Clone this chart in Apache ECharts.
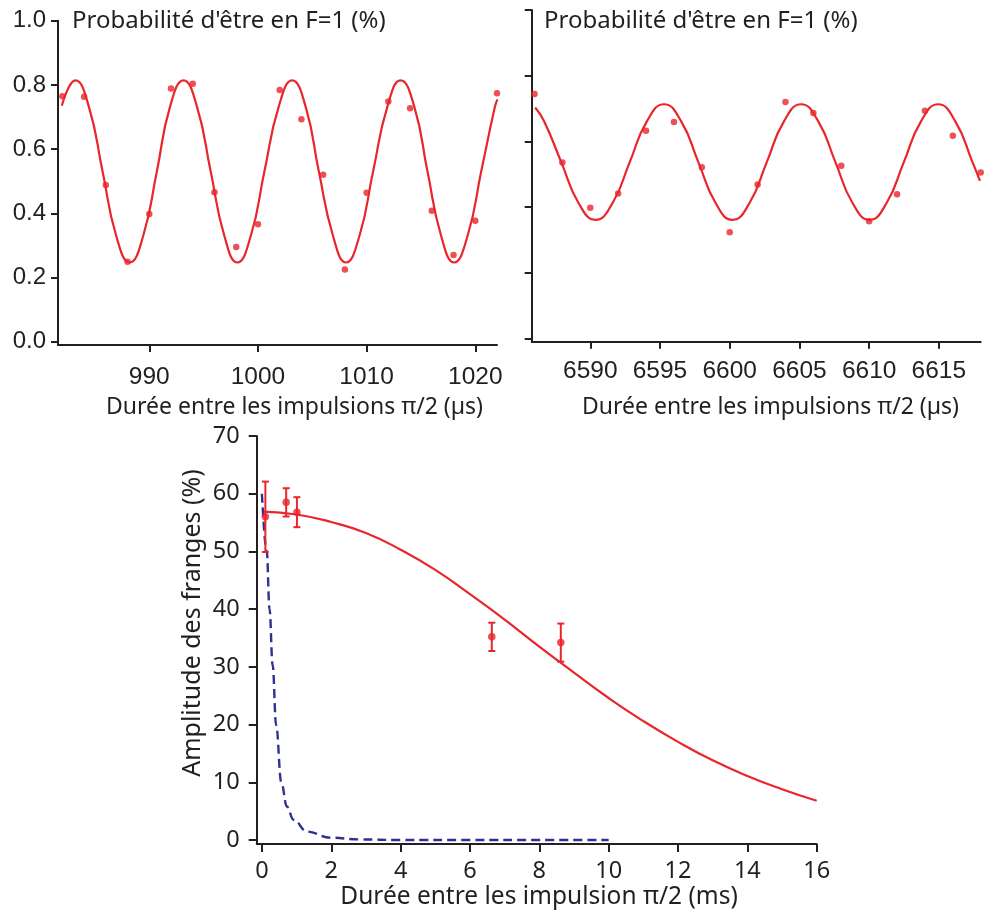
<!DOCTYPE html>
<html>
<head>
<meta charset="utf-8">
<script src="https://cdn.jsdelivr.net/npm/echarts@6/dist/echarts.min.js"></script>
<style>
html,body{margin:0;padding:0;background:#fff;}
#chart{width:984px;height:915px;}
</style>
</head>
<body>
<div id="chart"></div>
<script>
// ---------- Data ----------
// Top-left panel: fringes near 1000 µs
const tlTimes = [982,984,986,988,990,992,994,996,998,1000,1002,1004,1006,1008,1010,1012,1014,1016,1018,1020,1022];
const tlProb  = [0.765,0.763,0.488,0.249,0.398,0.789,0.804,0.466,0.295,0.366,0.784,0.693,0.520,0.225,0.464,0.748,0.727,0.408,0.270,0.377,0.774];
const tlFitT  = [981.95,983.2,984.45,985.7,986.95,988.2,989.45,990.7,991.9,993.15,994.4,995.65,996.9,998.1,999.35,1000.6,1001.9,1003.15,1004.4,1005.6,1006.9,1008.1,1009.35,1010.6,1011.9,1013.13,1014.4,1015.6,1016.85,1018.05,1019.3,1020.55,1021.8,1022.04];
const tlFitP  = [0.735,0.814,0.731,0.531,0.331,0.247,0.331,0.531,0.731,0.814,0.731,0.531,0.331,0.247,0.331,0.531,0.731,0.814,0.731,0.531,0.331,0.247,0.331,0.531,0.731,0.814,0.731,0.531,0.331,0.247,0.331,0.531,0.731,0.755];

// Top-right panel: fringes near 6600 µs
const trTimes = [6586,6588,6590,6592,6594,6596,6598,6600,6602,6604,6606,6608,6610,6612,6614,6616,6618];
const trProb  = [0.744,0.536,0.398,0.441,0.632,0.659,0.521,0.323,0.469,0.720,0.686,0.526,0.357,0.439,0.693,0.617,0.505];
const trFitT  = [6586.05,6586.69,6587.92,6589.15,6590.38,6591.61,6592.83,6594.06,6595.29,6596.52,6597.75,6598.98,6600.2,6601.43,6602.66,6603.89,6605.12,6606.35,6607.58,6608.8,6610.03,6611.26,6612.49,6613.72,6614.95,6616.18,6617.41,6617.95];
const trFitP  = [0.703,0.661,0.537,0.413,0.361,0.413,0.537,0.661,0.713,0.661,0.537,0.413,0.361,0.413,0.537,0.661,0.713,0.661,0.537,0.413,0.361,0.413,0.537,0.661,0.713,0.661,0.537,0.48];

// Bottom panel: fringe amplitude vs time
const ampTimes = [0.10,0.70,1.01,6.63,8.62];
const ampVals  = [56.0,58.5,56.8,35.2,34.2];
const ampErr   = [6.1,2.45,2.6,2.45,3.3];
const fitT     = [0.05,1,2,3,4,5,6,7,8,9,10,11,12,13,14,15,16];
const fitA     = [56.9,56.4,55.1,53.2,50.3,46.8,42.6,38.2,33.5,29.0,24.6,20.6,17.0,13.8,11.1,8.8,6.8];
const dashT    = [0,0.14,0.22,0.31,0.41,0.56,0.72,0.91,1.3,1.97,2.8,4,6,8,10];
const dashA    = [60,50,40,30.3,19.9,10,5.8,3.5,1.45,0.4,0.1,0,0,0,0];

// Tick labels
const tlXTicks = [990,1000,1010,1020];
const trXTicks = [6590,6595,6600,6605,6610,6615];
const probTicks = [0,0.2,0.4,0.6,0.8,1.0];
const ampYTicks = [0,10,20,30,40,50,60,70];
const ampXTicks = [0,2,4,6,8,10,12,14,16];

// ---------- Styling ----------
const RED = '#e8262b';
const BLUE = '#2e3192';
const INK = '#231f20';
const MYR = '"Noto Sans", sans-serif';
const ARI = '"Liberation Sans", Arial, sans-serif';

const zip = (a,b) => a.map((v,i)=>[v,b[i]]);
const plain = v => String(v);

function axisBase(extra){
  return Object.assign({
    type:'value',
    axisLine:{show:true,onZero:false,lineStyle:{color:INK,width:2}},
    axisTick:{show:true,inside:false,length:7,lineStyle:{color:INK,width:2}},
    splitLine:{show:false},
  }, extra);
}

const chart = echarts.init(document.getElementById('chart'), null, {renderer:'canvas'});

const option = {
  animation:false,
  backgroundColor:'#fff',
  grid:[
    {left:58, top:20.7, width:439, height:324.3},
    {left:531.7, top:10, width:449, height:331.7},
    {left:256.7, top:436, width:560, height:408}
  ],
  xAxis:[
    axisBase({gridIndex:0, min:981.6, max:1022,
      axisTick:{show:true,length:7,customValues:tlXTicks,lineStyle:{color:INK,width:2}},
      axisLabel:{customValues:tlXTicks, margin:20, color:INK, fontFamily:ARI, fontSize:24.5, formatter:plain}}),
    axisBase({gridIndex:1, min:6585.8, max:6618,
      axisTick:{show:true,length:7,customValues:trXTicks,lineStyle:{color:INK,width:2}},
      axisLabel:{customValues:trXTicks, margin:17, color:INK, fontFamily:ARI, fontSize:24.5, formatter:plain}}),
    axisBase({gridIndex:2, min:-0.15, max:16,
      axisTick:{show:true,length:8,customValues:ampXTicks,lineStyle:{color:INK,width:2}},
      axisLabel:{customValues:ampXTicks, margin:15, color:INK, fontFamily:MYR, fontSize:23.5, formatter:plain}})
  ],
  yAxis:[
    axisBase({gridIndex:0, min:-0.01, max:1.0,
      axisTick:{show:true,length:7,customValues:probTicks,lineStyle:{color:INK,width:2}},
      axisLabel:{customValues:probTicks, margin:12, color:INK, fontFamily:ARI, fontSize:24,
        formatter:v=>Number(v).toFixed(1)}}),
    axisBase({gridIndex:1, min:-0.01, max:1.0,
      axisTick:{show:true,length:7,customValues:probTicks,lineStyle:{color:INK,width:2}},
      axisLabel:{show:false}}),
    axisBase({gridIndex:2, min:-0.693, max:70,
      axisTick:{show:true,length:8,customValues:ampYTicks,lineStyle:{color:INK,width:2}},
      axisLabel:{customValues:ampYTicks, margin:17, color:INK, fontFamily:MYR, fontSize:23.5, formatter:plain}})
  ],
  series:[
    {type:'line', xAxisIndex:0, yAxisIndex:0, data:zip(tlFitT,tlFitP), smooth:0.5,
      showSymbol:false, lineStyle:{color:RED,width:2.2}, z:2},
    {type:'scatter', xAxisIndex:0, yAxisIndex:0, data:zip(tlTimes,tlProb), symbolSize:6.5,
      itemStyle:{color:RED}, clip:false, z:3},
    {type:'line', xAxisIndex:1, yAxisIndex:1, data:zip(trFitT,trFitP), smooth:0.5,
      showSymbol:false, lineStyle:{color:RED,width:2.2}, z:2},
    {type:'scatter', xAxisIndex:1, yAxisIndex:1, data:zip(trTimes,trProb), symbolSize:6.5,
      itemStyle:{color:RED}, clip:false, z:3},
    {type:'line', xAxisIndex:2, yAxisIndex:2, data:zip(fitT,fitA), smooth:0.5,
      showSymbol:false, lineStyle:{color:RED,width:2.2}, z:2},
    {type:'line', xAxisIndex:2, yAxisIndex:2, data:zip(dashT,dashA), smooth:0.4, smoothMonotone:'x',
      showSymbol:false, lineStyle:{color:BLUE,width:2.4,type:[9,5]}, z:2},
    {type:'custom', xAxisIndex:2, yAxisIndex:2, clip:false, z:3,
      data: ampTimes.map((t,i)=>[t, ampVals[i], ampErr[i]]),
      encode:{x:0,y:1},
      renderItem:(params, api)=>{
        const x = api.value(0), y = api.value(1), e = api.value(2);
        const top = api.coord([x, y+e]);
        const bot = api.coord([x, y-e]);
        const hw = 3.5;
        const st = {stroke:RED, lineWidth:2};
        return {type:'group', children:[
          {type:'line', shape:{x1:top[0],y1:top[1],x2:bot[0],y2:bot[1]}, style:st},
          {type:'line', shape:{x1:top[0]-hw,y1:top[1],x2:top[0]+hw,y2:top[1]}, style:st},
          {type:'line', shape:{x1:bot[0]-hw,y1:bot[1],x2:bot[0]+hw,y2:bot[1]}, style:st}
        ]};
      }},
    {type:'scatter', xAxisIndex:2, yAxisIndex:2, data:zip(ampTimes,ampVals), symbolSize:7.5,
      itemStyle:{color:RED}, clip:false, z:4}
  ],
  graphic:[
    {type:'text', x:72, y:21, style:{text:"Probabilité d'être en F=1 (%)", fill:INK,
      font:'24px '+MYR, textAlign:'left', textVerticalAlign:'middle'}},
    {type:'text', x:544, y:21, style:{text:"Probabilité d'être en F=1 (%)", fill:INK,
      font:'24px '+MYR, textAlign:'left', textVerticalAlign:'middle'}},
    {type:'text', x:294.5, y:407, style:{text:"Durée entre les impulsions π/2 (µs)", fill:INK,
      font:'23px '+MYR, textAlign:'center', textVerticalAlign:'middle'}},
    {type:'text', x:770.5, y:407, style:{text:"Durée entre les impulsions π/2 (µs)", fill:INK,
      font:'23px '+MYR, textAlign:'center', textVerticalAlign:'middle'}},
    {type:'text', x:539, y:897, style:{text:"Durée entre les impulsion π/2 (ms)", fill:INK,
      font:'24.5px '+MYR, textAlign:'center', textVerticalAlign:'middle'}},
    {type:'text', x:193, y:623, rotation:Math.PI/2, style:{text:"Amplitude des franges (%)", fill:INK,
      font:'25px '+MYR, textAlign:'center', textVerticalAlign:'middle'}}
  ]
};
chart.setOption(option);
</script>
</body>
</html>
